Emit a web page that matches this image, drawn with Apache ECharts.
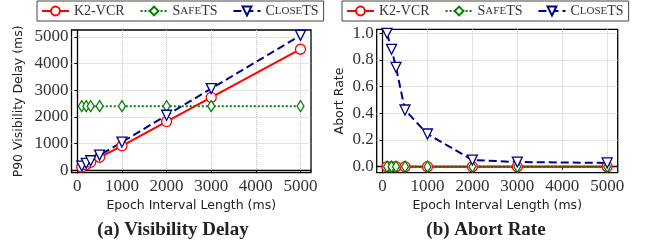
<!DOCTYPE html>
<html lang="en">
<head>
  <meta charset="UTF-8">
  <title>Epoch interval</title>
  <script src="https://cdn.jsdelivr.net/npm/echarts@6/dist/echarts.min.js"></script>
  <style>
    html, body { margin: 0; padding: 0; background: #fff; }
  </style>
</head>
<body>
  <div id="main" style="width: 646px; height: 243px;"></div>
  <script>
    // epoch interval lengths (ms)
    var epochs = [100, 200, 300, 500, 1000, 2000, 3000, 5000];
    var xTicks = [0, 1000, 2000, 3000, 4000, 5000];
    var delayTicks = [0, 1000, 2000, 3000, 4000, 5000];
    var abortTicks = [0, 0.2, 0.4, 0.6, 0.8, 1.0];

    // (a) P90 visibility delay (ms)
    var delayK2 = [110, 200, 290, 480, 910, 1820, 2730, 4540];
    var delaySafe = [2400, 2400, 2400, 2400, 2400, 2400, 2400, 2400];
    var delayClose = [150, 250, 350, 560, 1050, 2060, 3060, 5060];

    // (b) abort rate
    var abortK2 = [0, 0, 0, 0, 0, 0, 0, 0];
    var abortSafe = [0, 0, 0, 0, 0, 0, 0, 0];
    var abortClose = [1.0, 0.88, 0.745, 0.425, 0.245, 0.05, 0.035, 0.028];

    function pairs(xs, ys) {
      return xs.map(function (x, i) { return [x, ys[i]]; });
    }

    var serif = 'Liberation Serif';
    var sans = 'DejaVu Sans';

    var styles = {
      'K2-VCR': { color: '#ff0000', type: 'solid', symbol: 'circle', size: 10, rotate: 0 },
      'SafeTS': { color: '#008000', type: 'dotted', symbol: 'diamond', size: [7, 11], rotate: 0 },
      'CloseTS': { color: '#00008b', type: 'dashed', symbol: 'triangle', size: 10, rotate: 180 }
    };

    function mkSeries(name, data, idx) {
      var s = styles[name];
      return {
        type: 'line',
        name: name,
        xAxisIndex: idx,
        yAxisIndex: idx,
        data: data,
        symbol: s.symbol,
        symbolSize: s.size,
        symbolRotate: s.rotate,
        showAllSymbol: true,
        color: s.color,
        itemStyle: { color: '#fff', borderColor: s.color, borderWidth: 1.3 },
        lineStyle: { color: s.color, width: 2, type: s.type },
        animation: false
      };
    }

    function plain(v) { return String(v); }

    function xAxis(idx) {
      return {
        type: 'value',
        gridIndex: idx,
        min: -130,
        max: 5235,
        splitNumber: 5,
        name: 'Epoch Interval Length (ms)',
        nameLocation: 'middle',
        nameGap: 22,
        nameTextStyle: { fontFamily: sans, fontSize: 12.5, color: '#222', verticalAlign: 'top' },
        axisLine: { show: true, lineStyle: { color: '#000', width: 1.3 } },
        axisTick: { show: true, length: 3, customValues: xTicks, lineStyle: { color: '#000' } },
        axisLabel: { customValues: xTicks, margin: 5, fontFamily: serif, fontSize: 17, color: '#333', formatter: plain },
        splitLine: { show: true, lineStyle: { color: '#c8c8c8', type: 'dotted', width: 1 } }
      };
    }

    function yAxis(idx, min, max, ticks, name, gap, fmt) {
      return {
        type: 'value',
        gridIndex: idx,
        min: min,
        max: max,
        splitNumber: 5,
        name: name,
        nameLocation: 'middle',
        nameGap: gap,
        nameTextStyle: { fontFamily: sans, fontSize: 12.5, color: '#222' },
        axisLine: { show: true, lineStyle: { color: '#000', width: 1.3 } },
        axisTick: { show: true, length: 3, customValues: ticks, lineStyle: { color: '#000' } },
        axisLabel: { customValues: ticks, margin: 3, fontFamily: serif, fontSize: 17, color: '#333', formatter: fmt },
        splitLine: { show: true, lineStyle: { color: '#c8c8c8', type: 'dotted', width: 1 } }
      };
    }

    function legend(left) {
      return {
        left: left,
        top: 1,
        width: 300,
        itemWidth: 27,
        itemHeight: 11,
        itemGap: 15,
        padding: [3, 5, 3, 4],
        borderColor: '#444',
        borderWidth: 1,
        data: ['K2-VCR', 'SafeTS', 'CloseTS'],
        formatter: function (n) {
          if (n === 'SafeTS') return '{b|S}{s|AFE}{b|TS}';
          if (n === 'CloseTS') return '{b|C}{s|LOSE}{b|TS}';
          return '{b|' + n + '}';
        },
        textStyle: {
          fontFamily: serif,
          color: '#333',
          rich: {
            b: { fontFamily: serif, fontSize: 14, color: '#333' },
            s: { fontFamily: serif, fontSize: 11, color: '#333' }
          }
        }
      };
    }

    var chart = echarts.init(document.getElementById('main'), null, { renderer: 'canvas' });

    chart.setOption({
      animation: false,
      backgroundColor: '#fff',
      title: [
        { text: '(a) Visibility Delay', left: 168, top: 216, textAlign: 'center',
          textStyle: { fontFamily: serif, fontWeight: 'bold', fontSize: 19, color: '#222' } },
        { text: '(b) Abort Rate', left: 481, top: 216, textAlign: 'center',
          textStyle: { fontFamily: serif, fontWeight: 'bold', fontSize: 19, color: '#222' } }
      ],
      legend: [legend(37), legend(342)],
      grid: [
        { left: 71.5, right: 335, top: 30, bottom: 70.3, show: true, borderColor: '#000', borderWidth: 1.3 },
        { left: 376.7, right: 28.3, top: 29.3, bottom: 70.3, show: true, borderColor: '#000', borderWidth: 1.3 }
      ],
      xAxis: [xAxis(0), xAxis(1)],
      yAxis: [
        yAxis(0, -100, 5263, delayTicks, 'P90 Visibility Delay (ms)', 46, plain),
        yAxis(1, -0.045, 1.03, abortTicks, 'Abort Rate', 30, function (v) { return v.toFixed(1); })
      ],
      series: [
        mkSeries('K2-VCR', pairs(epochs, delayK2), 0),
        mkSeries('SafeTS', pairs(epochs, delaySafe), 0),
        mkSeries('CloseTS', pairs(epochs, delayClose), 0),
        mkSeries('K2-VCR', pairs(epochs, abortK2), 1),
        mkSeries('SafeTS', pairs(epochs, abortSafe), 1),
        mkSeries('CloseTS', pairs(epochs, abortClose), 1)
      ]
    });
  </script>
</body>
</html>
